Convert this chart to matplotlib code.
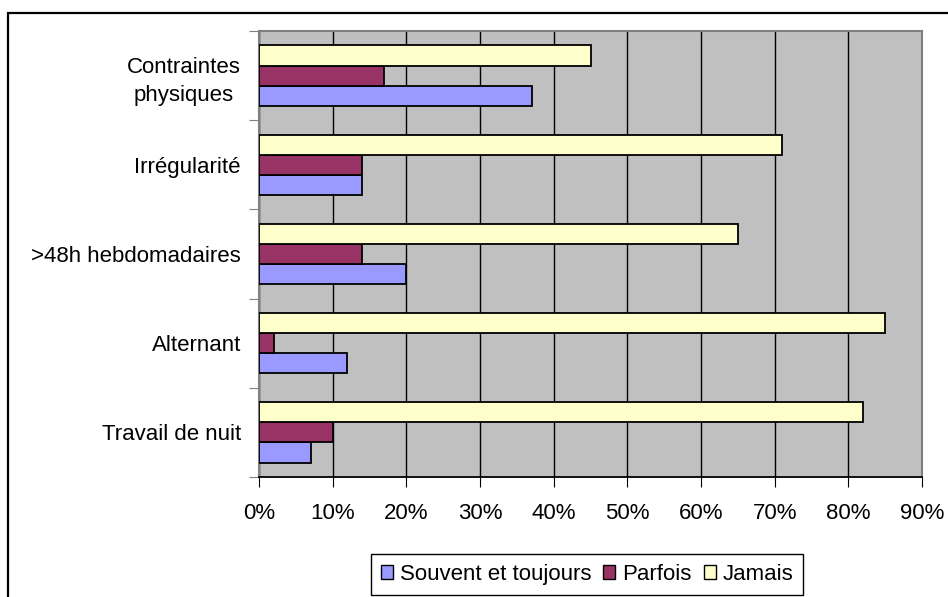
import numpy as np
import matplotlib
matplotlib.use("Agg")
import matplotlib.pyplot as plt
from matplotlib.patches import Rectangle, Patch

plt.rcParams['font.family'] = ['Liberation Sans', 'DejaVu Sans']

# données (de bas en haut)
categories = ['Travail de nuit', 'Alternant', '>48h hebdomadaires', 'Irrégularité', 'Contraintes\nphysiques']
souvent = [7, 12, 20, 14, 37]
parfois = [10, 2, 14, 14, 17]
jamais = [82, 85, 65, 71, 45]
series_names = ['Souvent et toujours', 'Parfois', 'Jamais']
colors = ['#9999FF', '#993366', '#FFFFCC']
xticks = [0, 10, 20, 30, 40, 50, 60, 70, 80, 90]

W, H = 948, 597
fig = plt.figure(figsize=(W / 100, H / 100), dpi=100)
ax = fig.add_axes([259 / W, 1 - 477 / H, (922 - 259) / W, (477 - 31) / H])
ax.set_facecolor('#C0C0C0')

y = np.arange(len(categories))
h = 0.225
for vals, off, c in zip([souvent, parfois, jamais], [-h, 0, h], colors):
    ax.barh(y + off, vals, height=h, color=c, edgecolor='black', linewidth=1.3, zorder=3)

ax.set_xlim(0, 90)
ax.set_ylim(-0.5, len(categories) - 0.5)
ax.set_xticks(xticks)
ax.set_xticklabels([f'{v}%' for v in xticks], fontsize=16)
ax.xaxis.grid(True, color='black', linewidth=1, zorder=1)
ax.set_axisbelow(True)

# graduations aux frontières, étiquettes au centre
ax.set_yticks(np.arange(len(categories) + 1) - 0.5)
ax.set_yticklabels([])
ax.set_yticks(y, minor=True)
labs = ax.set_yticklabels(categories, minor=True, fontsize=16, ha='right', multialignment='center')
for t in labs:
    t.set_linespacing(1.45)
ax.tick_params(axis='y', which='minor', length=0, pad=13)
ax.tick_params(axis='y', which='major', length=7, color='#808080')
ax.tick_params(axis='x', length=7, pad=12, color='black')

for s in ['top', 'right', 'left']:
    ax.spines[s].set_color('#808080')
    ax.spines[s].set_linewidth(1.5)
ax.spines['bottom'].set_color('black')
ax.spines['bottom'].set_linewidth(1.3)

handles = [Patch(facecolor=c, edgecolor='black', linewidth=1) for c in colors]
fig.legend(handles, series_names, loc='center', bbox_to_anchor=(587 / W, 1 - 574.5 / H),
           ncol=3, fontsize=16, frameon=True, fancybox=False, edgecolor='black',
           framealpha=1, handlelength=0.55, handleheight=0.55, handletextpad=0.3,
           columnspacing=0.55, borderpad=0.45)

# cadre extérieur
fig.patches.append(Rectangle((8 / W, -0.1), 2, 1 - 13 / H + 0.1, transform=fig.transFigure,
                             fill=False, edgecolor='black', linewidth=1.6))

fig.savefig('out.png', dpi=100)
